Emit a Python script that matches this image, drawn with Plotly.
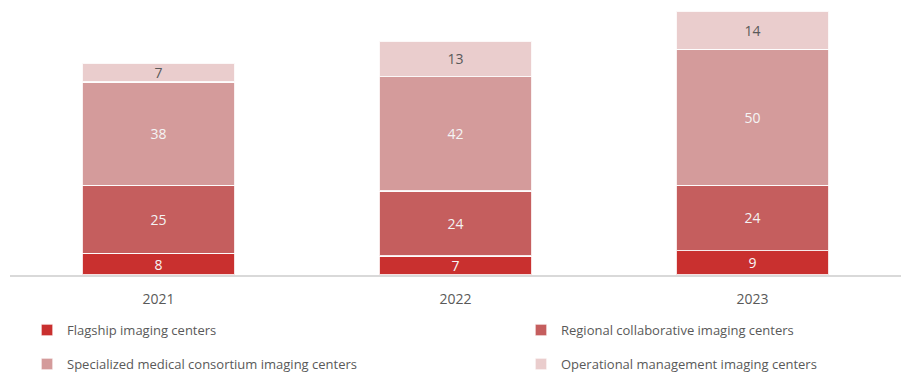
import plotly.graph_objects as go

years = ["2021", "2022", "2023"]
flagship = [8, 7, 9]
regional = [25, 24, 24]
specialized = [38, 42, 50]
operational = [7, 13, 14]

font_family = "Open Sans, Noto Sans, sans-serif"

# name, values, fill, label colour, legend id, legend position (paper coords)
series = [
    ("Flagship imaging centers", flagship, "#C9302F", "#F7F7F7", "legend", (0.0191, -0.2045)),
    ("Regional collaborative imaging centers", regional, "#C55E5E", "#F3F3F3", "legend2", (0.5735, -0.2045)),
    ("Specialized medical consortium imaging centers", specialized, "#D49B9B", "#F5F5F5", "legend3", (0.0191, -0.331)),
    ("Operational management imaging centers", operational, "#EACDCD", "#595959", "legend4", (0.5735, -0.331)),
]

fig = go.Figure()
legends = {}
for name, vals, color, txt_color, leg, (lx, ly) in series:
    fig.add_trace(go.Bar(
        name=name,
        x=years,
        y=vals,
        text=[str(v) for v in vals],
        textposition="inside",
        insidetextanchor="middle",
        textangle=0,
        constraintext="none",
        cliponaxis=False,
        textfont=dict(color=txt_color, size=14, family=font_family),
        marker=dict(color=color, line=dict(color="rgba(255,255,255,0.85)", width=1.5)),
        width=0.515,
        legend=leg,
        showlegend=True,
    ))
    legends[leg] = dict(
        orientation="v",
        xanchor="left",
        yanchor="middle",
        x=lx,
        y=ly,
        font=dict(size=13, color="#595959", family=font_family),
        bgcolor="rgba(0,0,0,0)",
    )

fig.update_layout(
    width=901,
    height=376,
    barmode="stack",
    showlegend=True,
    paper_bgcolor="white",
    plot_bgcolor="white",
    margin=dict(l=10, r=0, t=6, b=101, autoexpand=False),
    xaxis=dict(
        range=[-0.5, 2.5],
        showline=True,
        linecolor="#D9D9D9",
        linewidth=1.5,
        showgrid=False,
        ticks="",
        ticklabelstandoff=10,
        tickfont=dict(size=14, color="#595959", family=font_family),
    ),
    yaxis=dict(
        range=[0, 99],
        visible=False,
        showgrid=False,
    ),
    font=dict(family=font_family),
    **legends,
)

fig.write_html("out.html")
